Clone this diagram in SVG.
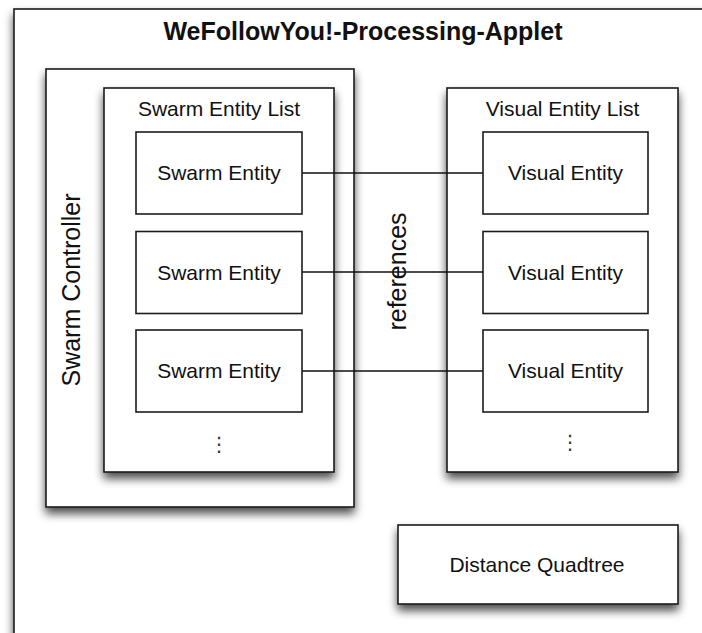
<svg xmlns="http://www.w3.org/2000/svg" width="702" height="633" viewBox="0 0 702 633">
  <style>
    .box { fill: #ffffff; stroke: #1c1c1c; stroke-width: 1.6; }
    .label { font-family: "Liberation Sans", Arial, Helvetica, sans-serif; font-size: 21px; fill: #111; text-anchor: middle; }
    .big { font-size: 25px; }
    .title { font-family: "Liberation Sans", Arial, Helvetica, sans-serif; font-size: 25px; font-weight: bold; fill: #111; text-anchor: middle; }
    .dots { font-family: "DejaVu Sans", sans-serif; font-size: 20px; fill: #333; text-anchor: middle; }
    .link { stroke: #111; stroke-width: 1.6; fill: none; }
  </style>
  <defs>
    <filter id="shadow" x="-20%" y="-20%" width="140%" height="140%">
      <feGaussianBlur in="SourceAlpha" stdDeviation="5"/>
      <feOffset dx="0" dy="6" result="blur"/>
      <feComponentTransfer><feFuncA type="linear" slope="0.7"/></feComponentTransfer>
      <feMerge><feMergeNode/><feMergeNode in="SourceGraphic"/></feMerge>
    </filter>
  </defs>
  <rect width="702" height="633" fill="#ffffff"/>

  <!-- applet frame -->
  <g id="applet">
    <rect class="box" x="14" y="9" width="720" height="660" filter="url(#shadow)"/>
    <text class="title" x="363" y="40">WeFollowYou!-Processing-Applet</text>
  </g>

  <!-- swarm controller containing the swarm entity list -->
  <g id="swarm-controller">
    <rect class="box" x="46" y="69" width="308" height="438" filter="url(#shadow)"/>
    <text class="label big" transform="translate(80 290) rotate(-90)">Swarm Controller</text>
  </g>

  <g id="swarm-entity-list">
    <rect class="box" x="104" y="88" width="230" height="384" filter="url(#shadow)"/>
    <text class="label" x="219" y="116">Swarm Entity List</text>
    <text class="dots" x="219" y="451">⋮</text>
  </g>

  <g id="swarm-entity-1">
    <rect class="box" x="136" y="132" width="166" height="82"/>
    <text class="label" x="219" y="180">Swarm Entity</text>
  </g>
  <g id="swarm-entity-2">
    <rect class="box" x="136" y="231.5" width="166" height="82"/>
    <text class="label" x="219" y="279.5">Swarm Entity</text>
  </g>
  <g id="swarm-entity-3">
    <rect class="box" x="136" y="330" width="166" height="82"/>
    <text class="label" x="219" y="378">Swarm Entity</text>
  </g>

  <!-- visual entity list -->
  <g id="visual-entity-list">
    <rect class="box" x="447" y="88" width="231" height="384" filter="url(#shadow)"/>
    <text class="label" x="562.5" y="116">Visual Entity List</text>
    <text class="dots" x="570" y="449">⋮</text>
  </g>

  <g id="visual-entity-1">
    <rect class="box" x="483" y="132" width="165" height="82"/>
    <text class="label" x="565.5" y="180">Visual Entity</text>
  </g>
  <g id="visual-entity-2">
    <rect class="box" x="483" y="231.5" width="165" height="82"/>
    <text class="label" x="565.5" y="279.5">Visual Entity</text>
  </g>
  <g id="visual-entity-3">
    <rect class="box" x="483" y="330" width="165" height="82"/>
    <text class="label" x="565.5" y="378">Visual Entity</text>
  </g>

  <g id="distance-quadtree">
    <rect class="box" x="398" y="525" width="280" height="79" filter="url(#shadow)"/>
    <text class="label" x="537" y="572">Distance Quadtree</text>
  </g>

  <!-- reference links between swarm and visual entities -->
  <g id="connectors">
    <line class="link" x1="302" y1="173" x2="483" y2="173"/>
    <line class="link" x1="302" y1="272" x2="483" y2="272"/>
    <line class="link" x1="302" y1="371" x2="483" y2="371"/>
    <text class="label big" transform="translate(406 271.5) rotate(-90)">references</text>
  </g>
</svg>
